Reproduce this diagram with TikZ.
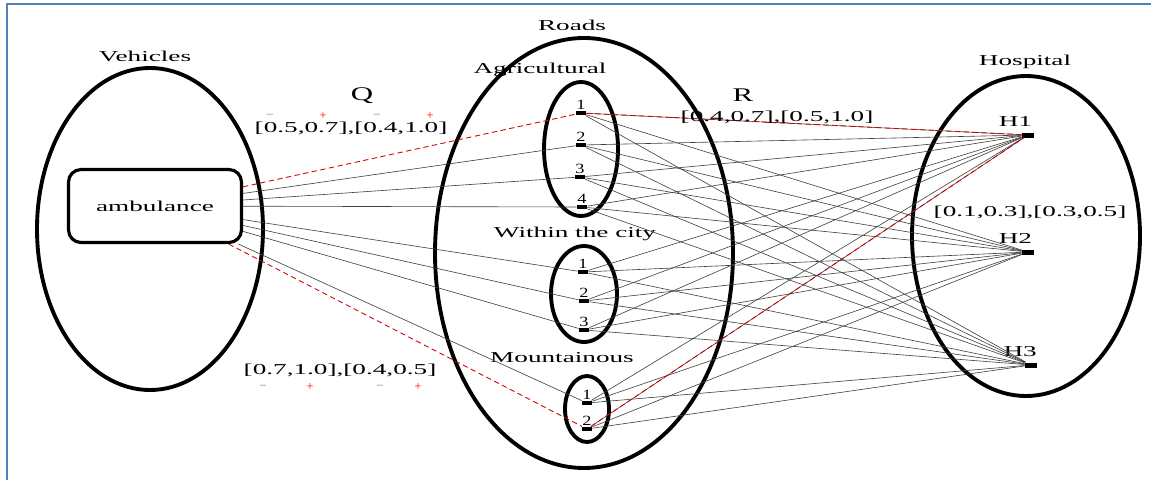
\documentclass[tikz,border=0pt]{standalone}
\usepackage{fontspec}
\setmainfont{Liberation Serif}
\usetikzlibrary{positioning}
\definecolor{frameblue}{RGB}{79,129,189}
\tikzstyle{set} = [line width=2.2pt]
\tikzstyle{bar} = [fill=black, inner sep=0pt, minimum width=0.2cm, minimum height=0.09cm]
\tikzstyle{hbar} = [fill=black, inner sep=0pt, minimum width=0.24cm, minimum height=0.1cm]
\tikzstyle{lbl} = [font=\fontsize{8.6}{10}\selectfont, xscale=1.8, inner sep=0pt]
\tikzstyle{num} = [font=\fontsize{8}{9}\selectfont, xscale=1.3, inner sep=0pt]
\tikzstyle{sgn} = [font=\fontsize{7}{7}\selectfont, inner sep=0pt]
\tikzstyle{link} = [black!75, line width=0.35pt]
\tikzstyle{redlink} = [red!85!black, line width=0.5pt, densely dashed]

\begin{document}
\begin{tikzpicture}[x=0.02cm, y=-0.02cm]
\useasboundingbox (0,0) rectangle (1151,480);
\draw[frameblue, line width=1.2pt] (7,480) -- (7,4) -- (1151,4);

% the three sets
\draw[set] (150,229) ellipse (113 and 161);
\draw[set] (584,253) ellipse (149 and 215);
\draw[set] (1026,236) ellipse (114 and 160);
\draw[set] (581,149) ellipse (37 and 67);
\draw[set] (584,294) ellipse (33 and 48);
\draw[set] (587,409) ellipse (22 and 33);

\node[lbl] (vehtxt) at (145,56) {Vehicles};
\node[lbl] (roadtxt) at (572,25) {Roads};
\node[lbl] (hosptxt) at (1025,62) {Hospital};
\node[lbl] (agrtxt) at (540,70) {Agricultural};
\node[lbl] (citytxt) at (575,234) {Within the city};
\node[lbl] (mnttxt) at (562,358) {Mountainous};

% vehicle
\node[draw, line width=1.8pt, rounded corners=0.25cm, minimum width=3.46cm, minimum height=1.46cm] (amb) at (155,206) {};
\node[lbl] (ambtxt) at (amb) {ambulance};

% roads
\node[bar, label={[num, label distance=0.5pt]above:1}] (a1) at (581,113) {};
\node[bar, label={[num, label distance=0.5pt]above:2}] (a2) at (581,145) {};
\node[bar, label={[num, label distance=0.5pt]above:3}] (a3) at (580,177) {};
\node[bar, label={[num, label distance=0.5pt]above:4}] (a4) at (582,207) {};
\node[bar, label={[num, label distance=0.5pt]above:1}] (c1) at (583,272) {};
\node[bar, label={[num, label distance=0.5pt]above:2}] (c2) at (584,301) {};
\node[bar, label={[num, label distance=0.5pt]above:3}] (c3) at (584,330) {};
\node[bar, label={[num, label distance=0.5pt]above:1}] (m1) at (587,403) {};
\node[bar, label={[num, label distance=0.5pt]above:2}] (m2) at (587,429) {};

% hospitals
\node[hbar, label={[lbl, label distance=3pt, xshift=-0.14cm]above:H1}] (h1) at (1028,135) {};
\node[hbar, label={[lbl, label distance=3pt, xshift=-0.14cm]above:H2}] (h2) at (1028,252) {};
\node[hbar, label={[lbl, label distance=3pt, xshift=-0.12cm]above:H3}] (h3) at (1031,365) {};

% connections
\foreach \r in {a2,a3,a4,c1,c2,c3,m1}
  \draw[link] (amb) -- (\r);
\foreach \r in {a1,a2,a3,a4,c1,c2,c3,m1,m2}
  \foreach \h in {h1,h2,h3}
    \draw[link] (\r) -- (\h);
\draw[redlink] (amb) -- (a1);
\draw[redlink] (amb) -- (m2);
\draw[redlink] (a1) -- (h1);
\draw[redlink] (m2) -- (h1);

% values
\node[font=\fontsize{11}{12}\selectfont, xscale=1.6] (qtxt) at (362,96) {Q};
\node[font=\fontsize{11}{12}\selectfont, xscale=1.6] (rtxt) at (743,95) {R};
\node[lbl, fill=white, inner sep=1pt] (qval) at (351,128) {[0.5,0.7],[0.4,1.0]};
\node[lbl] (rval) at (777,117) {[0.4,0.7],[0.5,1.0]};
\node[lbl] (hval) at (1030,212) {[0.1,0.3],[0.3,0.5]};
\node[lbl, fill=white, inner sep=1pt] (mval) at (340,370) {[0.7,1.0],[0.4,0.5]};
\node[sgn, gray] (s1) at (270,116) {--};
\node[sgn, red] (s2) at (323,116) {+};
\node[sgn, gray] (s3) at (377,116) {--};
\node[sgn, red] (s4) at (430,116) {+};
\node[sgn, gray] (s5) at (263,387) {--};
\node[sgn, red] (s6) at (310,387) {+};
\node[sgn, gray] (s7) at (380,387) {--};
\node[sgn, red] (s8) at (418,387) {+};
\end{tikzpicture}
\end{document}
